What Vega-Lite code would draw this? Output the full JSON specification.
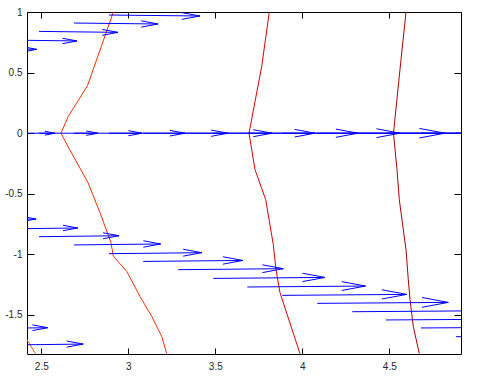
{
  "$schema": "https://vega.github.io/schema/vega-lite/v6.json",
  "width": 434,
  "height": 342,
  "autosize": {"type": "none"},
  "padding": {"left": 27, "top": 12, "right": 17, "bottom": 33},
  "background": "white",
  "config": {
    "view": {"stroke": "black", "strokeWidth": 1},
    "axis": {"grid": false, "domain": false, "title": null, "labelFont": "Liberation Sans", "labelFontSize": 10, "labelColor": "#262626", "tickColor": "black", "tickWidth": 1}
  },
  "datasets": {
    "arrows": [
      {"x": 2.889, "y": 0.975, "x2": 3.412, "y2": 0.967},
      {"x": 2.688, "y": 0.909, "x2": 3.171, "y2": 0.901},
      {"x": 2.487, "y": 0.840, "x2": 2.941, "y2": 0.832},
      {"x": 2.286, "y": 0.769, "x2": 2.705, "y2": 0.761},
      {"x": 2.090, "y": 0.700, "x2": 2.474, "y2": 0.692},
      {"x": 2.286, "y": 0, "x2": 2.579, "y2": 0},
      {"x": 2.487, "y": 0, "x2": 2.826, "y2": 0},
      {"x": 2.688, "y": 0, "x2": 3.079, "y2": 0},
      {"x": 2.889, "y": 0, "x2": 3.326, "y2": 0},
      {"x": 3.086, "y": 0, "x2": 3.573, "y2": 0},
      {"x": 3.287, "y": 0, "x2": 3.826, "y2": 0},
      {"x": 3.488, "y": 0, "x2": 4.073, "y2": 0},
      {"x": 3.684, "y": 0, "x2": 4.320, "y2": 0},
      {"x": 3.885, "y": 0, "x2": 4.562, "y2": 0},
      {"x": 4.086, "y": 0, "x2": 4.820, "y2": 0},
      {"x": 4.287, "y": 0, "x2": 5.070, "y2": 0},
      {"x": 4.481, "y": 0, "x2": 5.310, "y2": 0},
      {"x": 4.682, "y": 0, "x2": 5.550, "y2": 0},
      {"x": 4.883, "y": 0, "x2": 5.790, "y2": 0},
      {"x": 2.082, "y": -0.716, "x2": 2.470, "y2": -0.708},
      {"x": 2.286, "y": -0.790, "x2": 2.709, "y2": -0.782},
      {"x": 2.487, "y": -0.854, "x2": 2.947, "y2": -0.846},
      {"x": 2.688, "y": -0.922, "x2": 3.186, "y2": -0.914},
      {"x": 2.889, "y": -0.994, "x2": 3.422, "y2": -0.986},
      {"x": 3.086, "y": -1.058, "x2": 3.658, "y2": -1.050},
      {"x": 3.287, "y": -1.126, "x2": 3.891, "y2": -1.118},
      {"x": 3.488, "y": -1.198, "x2": 4.130, "y2": -1.190},
      {"x": 3.684, "y": -1.269, "x2": 4.363, "y2": -1.261},
      {"x": 3.885, "y": -1.338, "x2": 4.600, "y2": -1.330},
      {"x": 4.086, "y": -1.404, "x2": 4.839, "y2": -1.396},
      {"x": 4.287, "y": -1.473, "x2": 5.077, "y2": -1.465},
      {"x": 4.481, "y": -1.541, "x2": 5.309, "y2": -1.533},
      {"x": 4.682, "y": -1.607, "x2": 5.547, "y2": -1.599},
      {"x": 4.883, "y": -1.679, "x2": 5.786, "y2": -1.671},
      {"x": 2.097, "y": -1.613, "x2": 2.537, "y2": -1.605},
      {"x": 2.264, "y": -1.748, "x2": 2.741, "y2": -1.740}
    ],
    "contours": [
      {"c": "a", "x": 2.9138, "y": 1.0},
      {"c": "a", "x": 2.8718, "y": 0.8267},
      {"c": "a", "x": 2.7655, "y": 0.3919},
      {"c": "a", "x": 2.6552, "y": 0.1386},
      {"c": "a", "x": 2.6132, "y": 0.0},
      {"c": "a", "x": 2.6609, "y": -0.130},
      {"c": "a", "x": 2.7684, "y": -0.408},
      {"c": "a", "x": 2.8374, "y": -0.656},
      {"c": "a", "x": 2.9006, "y": -0.903},
      {"c": "a", "x": 2.9138, "y": -1.0145},
      {"c": "a", "x": 2.9908, "y": -1.140},
      {"c": "a", "x": 3.0672, "y": -1.3465},
      {"c": "a", "x": 3.1345, "y": -1.5115},
      {"c": "a", "x": 3.1919, "y": -1.6766},
      {"c": "a", "x": 3.2207, "y": -1.8193},
      {"c": "b", "x": 3.8103, "y": 1.0},
      {"c": "b", "x": 3.7667, "y": 0.5512},
      {"c": "b", "x": 3.6937, "y": 0.0},
      {"c": "b", "x": 3.7282, "y": -0.301},
      {"c": "b", "x": 3.7897, "y": -0.5487},
      {"c": "b", "x": 3.8334, "y": -0.920},
      {"c": "b", "x": 3.8489, "y": -1.126},
      {"c": "b", "x": 3.8718, "y": -1.316},
      {"c": "b", "x": 3.9868, "y": -1.8193},
      {"c": "c", "x": 4.5960, "y": 1.0},
      {"c": "c", "x": 4.5672, "y": 0.6064},
      {"c": "c", "x": 4.5241, "y": 0.0},
      {"c": "c", "x": 4.5442, "y": -0.301},
      {"c": "c", "x": 4.5575, "y": -0.5487},
      {"c": "c", "x": 4.5960, "y": -0.961},
      {"c": "c", "x": 4.6092, "y": -1.208},
      {"c": "c", "x": 4.6190, "y": -1.373},
      {"c": "c", "x": 4.6379, "y": -1.594},
      {"c": "c", "x": 4.6724, "y": -1.8193},
      {"c": "d", "x": 2.369, "y": -1.588},
      {"c": "d", "x": 2.4178, "y": -1.7038},
      {"c": "d", "x": 2.4667, "y": -1.8193}
    ]
  },
  "layer": [
    {
      "data": {"name": "contours"},
      "mark": {"type": "line", "clip": true, "strokeWidth": 1},
      "encoding": {
        "x": {"field": "x", "type": "quantitative", "scale": {"domain": [2.4178, 4.9121], "nice": false, "zero": false},
              "axis": {"orient": "top", "values": [2.5, 3, 3.5, 4, 4.5], "labels": false, "tickSize": -6}},
        "y": {"field": "y", "type": "quantitative", "scale": {"domain": [-1.8218, 1.0], "nice": false, "zero": false},
              "axis": {"orient": "right", "values": [-1.5, -1, -0.5, 0, 0.5, 1], "labels": false, "tickSize": -7}},
        "color": {"field": "c", "type": "nominal", "scale": {"domain": ["a", "b", "c", "d"], "range": ["#ff2a00", "#e00000", "#b00000", "#ff5500"]}, "legend": null},
        "order": {"value": null}
      }
    },
    {
      "data": {"name": "arrows"},
      "mark": {"type": "rule", "clip": true, "color": "#0000ff", "strokeWidth": 1},
      "encoding": {
        "x": {"field": "x", "type": "quantitative", "scale": {"domain": [2.4178, 4.9121], "nice": false, "zero": false},
              "axis": {"orient": "bottom", "values": [2.5, 3, 3.5, 4, 4.5], "format": "~g", "tickSize": -6, "labelPadding": 13}},
        "x2": {"field": "x2"},
        "y": {"field": "y", "type": "quantitative", "scale": {"domain": [-1.8218, 1.0], "nice": false, "zero": false},
              "axis": {"orient": "left", "values": [-1.5, -1, -0.5, 0, 0.5, 1], "format": "~g", "tickSize": -7, "labelPadding": 12, "labelExpr": "replace(datum.label, '−', '-')"}},
        "y2": {"field": "y2"}
      }
    },
    {
      "data": {"name": "arrows"},
      "transform": [{"calculate": "datum.x2 - datum.x", "as": "len"}],
      "mark": {"type": "point", "clip": true, "shape": "M-1,-0.186L0,0L-1,0.186", "filled": false, "stroke": "#0000ff", "strokeWidth": 1, "opacity": 1},
      "encoding": {
        "x": {"field": "x2", "type": "quantitative", "scale": {"domain": [2.4178, 4.9121], "nice": false, "zero": false}, "axis": null},
        "y": {"field": "y2", "type": "quantitative", "scale": {"domain": [-1.8218, 1.0], "nice": false, "zero": false}, "axis": null},
        "size": {"field": "len", "type": "quantitative", "scale": {"type": "pow", "exponent": 2, "domain": [0, 1], "range": [0, 4844]}, "legend": null}
      }
    }
  ],
  "resolve": {"axis": {"x": "independent", "y": "independent"}}
}
